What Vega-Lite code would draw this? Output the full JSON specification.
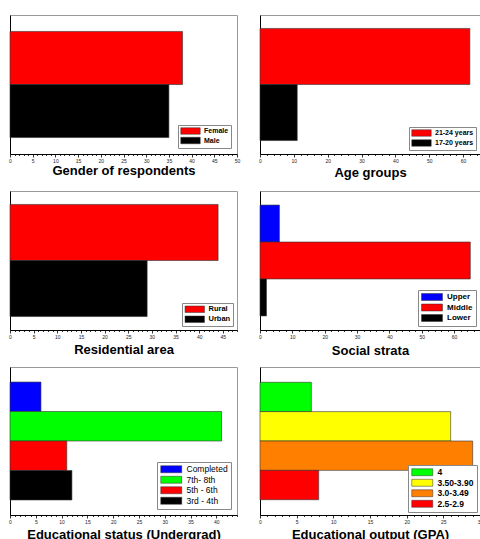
{
  "$schema": "https://vega.github.io/schema/vega-lite/v6.json",
  "padding": {"left": 8, "top": 14, "right": 0, "bottom": 0},
  "background": "white",
  "columns": 2,
  "spacing": {"row": 37, "column": 23},
  "bounds": "flush",
  "datasets": {
    "gender": [{"category": "Female", "count": 38}, {"category": "Male", "count": 35}],
    "age": [{"category": "21-24 years", "count": 62}, {"category": "17-20 years", "count": 11}],
    "residence": [{"category": "Rural", "count": 44}, {"category": "Urban", "count": 29}],
    "strata": [{"category": "Upper", "count": 6}, {"category": "Middle", "count": 65}, {"category": "Lower", "count": 2}],
    "edu": [{"category": "Completed", "count": 6}, {"category": "7th- 8th", "count": 41}, {"category": "5th - 6th", "count": 11}, {"category": "3rd - 4th", "count": 12}],
    "gpa": [{"category": "4", "count": 7}, {"category": "3.50-3.90", "count": 26}, {"category": "3.0-3.49", "count": 29}, {"category": "2.5-2.9", "count": 8}]
  },
  "resolve": {"scale": {"x": "independent", "y": "independent", "color": "independent"}, "legend": {"color": "independent"}},
  "concat": [
    {
      "width": 227, "height": 139,
      "data": {"name": "gender"},
      "mark": {"type": "bar", "stroke": "#333", "strokeWidth": 0.6},
      "encoding": {
        "y": {"field": "category", "type": "nominal", "sort": ["Female", "Male"], "scale": {"paddingInner": 0, "paddingOuter": 0.31}, "axis": {"title": null, "labels": false, "ticks": false}},
        "x": {"field": "count", "type": "quantitative", "scale": {"domain": [0, 50], "nice": false},
          "axis": {"title": "Gender of respondents", "titlePadding": 1,
            "values": [0,1,2,3,4,5,6,7,8,9,10,11,12,13,14,15,16,17,18,19,20,21,22,23,24,25,26,27,28,29,30,31,32,33,34,35,36,37,38,39,40,41,42,43,44,45,46,47,48,49,50],
            "labelExpr": "datum.value % 5 === 0 ? datum.label : ''",
            "tickSize": {"condition": {"test": "datum.value % 5 === 0", "value": 3}, "value": 1.5}}},
        "color": {"field": "category", "type": "nominal", "scale": {"domain": ["Female", "Male"], "range": ["#ff0000", "#000000"]},
          "legend": {"title": null, "orient": "bottom-right", "offset": 6, "symbolSize": 42, "symbolOffset": 6.5, "labelOffset": 10, "labelFontSize": 7, "rowPadding": 0.5, "padding": 2.5}}
      }
    },
    {
      "width": 220, "height": 139,
      "data": {"name": "age"},
      "mark": {"type": "bar", "stroke": "#333", "strokeWidth": 0.6},
      "encoding": {
        "y": {"field": "category", "type": "nominal", "sort": ["21-24 years", "17-20 years"], "scale": {"paddingInner": 0, "paddingOuter": 0.24}, "axis": {"title": null, "labels": false, "ticks": false}},
        "x": {"field": "count", "type": "quantitative", "scale": {"domain": [0, 65], "nice": false},
          "axis": {"title": "Age groups", "titlePadding": 3,
            "values": [0,2,4,6,8,10,12,14,16,18,20,22,24,26,28,30,32,34,36,38,40,42,44,46,48,50,52,54,56,58,60,62,64],
            "labelExpr": "datum.value % 10 === 0 ? datum.label : ''",
            "tickSize": {"condition": {"test": "datum.value % 10 === 0", "value": 3}, "value": 1.5}}},
        "color": {"field": "category", "type": "nominal", "scale": {"domain": ["21-24 years", "17-20 years"], "range": ["#ff0000", "#000000"]},
          "legend": {"title": null, "orient": "bottom-right", "offset": 4, "symbolSize": 42, "symbolOffset": 6.5, "labelOffset": 10, "labelFontSize": 7, "rowPadding": 1, "padding": 2.5}}
      }
    },
    {
      "width": 227, "height": 139,
      "data": {"name": "residence"},
      "mark": {"type": "bar", "stroke": "#333", "strokeWidth": 0.6},
      "encoding": {
        "y": {"field": "category", "type": "nominal", "sort": ["Rural", "Urban"], "scale": {"paddingInner": 0, "paddingOuter": 0.24}, "axis": {"title": null, "labels": false, "ticks": false}},
        "x": {"field": "count", "type": "quantitative", "scale": {"domain": [0, 48], "nice": false},
          "axis": {"title": "Residential area", "titlePadding": 4,
            "values": [0,1,2,3,4,5,6,7,8,9,10,11,12,13,14,15,16,17,18,19,20,21,22,23,24,25,26,27,28,29,30,31,32,33,34,35,36,37,38,39,40,41,42,43,44,45,46,47,48],
            "labelExpr": "datum.value % 5 === 0 ? datum.label : ''",
            "tickSize": {"condition": {"test": "datum.value % 5 === 0", "value": 3}, "value": 1.5}}},
        "color": {"field": "category", "type": "nominal", "scale": {"domain": ["Rural", "Urban"], "range": ["#ff0000", "#000000"]},
          "legend": {"title": null, "orient": "bottom-right", "offset": 4, "symbolSize": 42, "symbolOffset": 6.5, "labelOffset": 10, "labelFontSize": 7.5, "rowPadding": 1, "padding": 2.5}}
      }
    },
    {
      "width": 220, "height": 139,
      "data": {"name": "strata"},
      "mark": {"type": "bar", "stroke": "#333", "strokeWidth": 0.6},
      "encoding": {
        "y": {"field": "category", "type": "nominal", "sort": ["Upper", "Middle", "Lower"], "scale": {"paddingInner": 0, "paddingOuter": 0.38}, "axis": {"title": null, "labels": false, "ticks": false}},
        "x": {"field": "count", "type": "quantitative", "scale": {"domain": [0, 68], "nice": false},
          "axis": {"title": "Social strata", "titlePadding": 5,
            "values": [0,2,4,6,8,10,12,14,16,18,20,22,24,26,28,30,32,34,36,38,40,42,44,46,48,50,52,54,56,58,60,62,64,66,68],
            "labelExpr": "datum.value % 10 === 0 ? datum.label : ''",
            "tickSize": {"condition": {"test": "datum.value % 10 === 0", "value": 3}, "value": 1.5}}},
        "color": {"field": "category", "type": "nominal", "scale": {"domain": ["Upper", "Middle", "Lower"], "range": ["#0000ff", "#ff0000", "#000000"]},
          "legend": {"title": null, "orient": "bottom-right", "offset": 4, "symbolSize": 49, "symbolOffset": 7, "labelOffset": 11, "labelFontSize": 8, "rowPadding": 0.5, "padding": 3}}
      }
    },
    {
      "width": 227, "height": 148,
      "data": {"name": "edu"},
      "mark": {"type": "bar", "stroke": "#333", "strokeWidth": 0.6},
      "encoding": {
        "y": {"field": "category", "type": "nominal", "sort": ["Completed", "7th- 8th", "5th - 6th", "3rd - 4th"], "scale": {"paddingInner": 0, "paddingOuter": 0.51}, "axis": {"title": null, "labels": false, "ticks": false}},
        "x": {"field": "count", "type": "quantitative", "scale": {"domain": [0, 44], "nice": false},
          "axis": {"title": "Educational status (Undergrad)", "titlePadding": 4,
            "values": [0,1,2,3,4,5,6,7,8,9,10,11,12,13,14,15,16,17,18,19,20,21,22,23,24,25,26,27,28,29,30,31,32,33,34,35,36,37,38,39,40,41,42,43,44],
            "labelExpr": "datum.value % 5 === 0 ? datum.label : ''",
            "tickSize": {"condition": {"test": "datum.value % 5 === 0", "value": 3}, "value": 1.5}}},
        "color": {"field": "category", "type": "nominal", "scale": {"domain": ["Completed", "7th- 8th", "5th - 6th", "3rd - 4th"], "range": ["#0000ff", "#00ff00", "#ff0000", "#000000"]},
          "legend": {"title": null, "orient": "bottom-right", "offset": 6, "symbolSize": 49, "symbolOffset": 7, "labelOffset": 11, "labelFontSize": 8.5, "labelFontWeight": "normal", "rowPadding": 0.5, "padding": 3}}
      }
    },
    {
      "width": 220, "height": 148,
      "data": {"name": "gpa"},
      "mark": {"type": "bar", "stroke": "#333", "strokeWidth": 0.6},
      "encoding": {
        "y": {"field": "category", "type": "nominal", "sort": ["4", "3.50-3.90", "3.0-3.49", "2.5-2.9"], "scale": {"paddingInner": 0, "paddingOuter": 0.52}, "axis": {"title": null, "labels": false, "ticks": false}},
        "x": {"field": "count", "type": "quantitative", "scale": {"domain": [0, 30], "nice": false},
          "axis": {"title": "Educational output (GPA)", "titlePadding": 4,
            "values": [0,1,2,3,4,5,6,7,8,9,10,11,12,13,14,15,16,17,18,19,20,21,22,23,24,25,26,27,28,29,30],
            "labelExpr": "datum.value % 5 === 0 ? datum.label : ''",
            "tickSize": {"condition": {"test": "datum.value % 5 === 0", "value": 3}, "value": 1.5}}},
        "color": {"field": "category", "type": "nominal", "scale": {"domain": ["4", "3.50-3.90", "3.0-3.49", "2.5-2.9"], "range": ["#00ff00", "#ffff00", "#ff8000", "#ff0000"]},
          "legend": {"title": null, "orient": "bottom-right", "offset": 3, "symbolSize": 49, "symbolOffset": 7, "labelOffset": 11, "labelFontSize": 8.5, "labelFontWeight": "bold", "rowPadding": 0.5, "padding": 3}}
      }
    }
  ],
  "config": {
    "font": "Liberation Sans",
    "view": {"stroke": "#999", "strokeWidth": 1},
    "axis": {"grid": false, "domainColor": "#000", "domainWidth": 1, "tickColor": "#000", "tickWidth": 0.8,
      "labelFontSize": 5, "labelColor": "#222", "labelPadding": 1, "labelOverlap": false, "labelFlush": false,
      "titleFontSize": 13, "titleFontWeight": "bold", "titleColor": "#000"},
    "legend": {"strokeColor": "#888", "fillColor": "white",
      "symbolType": "M-3,-1H3V1H-3Z", "symbolStrokeColor": "#333", "symbolStrokeWidth": 0.5, "symbolOpacity": 1,
      "labelFontWeight": "bold", "labelColor": "#000"}
  }
}
